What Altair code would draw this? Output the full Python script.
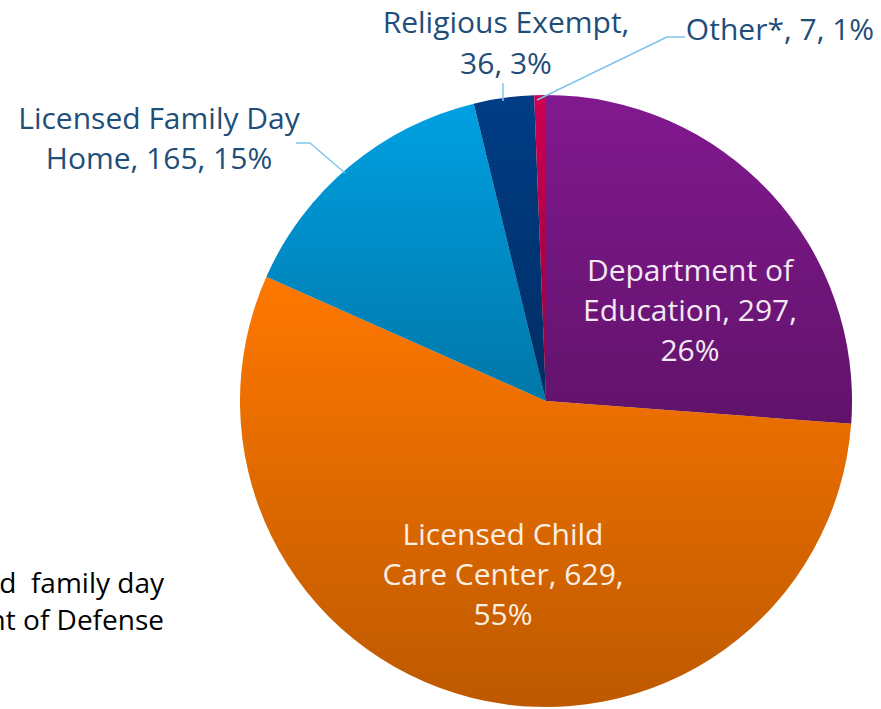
import altair as alt
import pandas as pd

# ---- data ----
categories = ["Department of Education", "Licensed Child Care Center",
              "Licensed Family Day Home", "Religious Exempt", "Other*"]
counts = [297, 629, 165, 36, 7]
percents = ["26%", "55%", "15%", "3%", "1%"]
slice_colors = ["#82198f", "#ff7800", "#00a0e2", "#003d86", "#cc0050"]
label_texts = [
    "Department of\nEducation, 297,\n26%",
    "Licensed Child\nCare Center, 629,\n55%",
    "Licensed Family Day\nHome, 165, 15%",
    "Religious Exempt,\n36, 3%",
    "Other*, 7, 1%",
]
note_lines = "d\u00a0 family day\nnt of Defense"

df = pd.DataFrame({"category": categories, "count": counts,
                   "idx": list(range(len(categories)))})

W, H = 881, 709
CX, CY, R = 546, 401, 306
FONT = "Open Sans"
FS = 30
LABEL_BLUE = "#1f4e79"
LEADER = "#7fc4ee"

base = alt.Chart(df)

pie = base.mark_arc(outerRadius=R).encode(
    theta=alt.Theta("count:Q", stack=True),
    color=alt.Color("category:N", scale=alt.Scale(domain=categories, range=slice_colors), legend=None),
    order=alt.Order("idx:Q", sort="ascending"),
    x=alt.value(CX), y=alt.value(CY),
)

shade = base.mark_arc(
    outerRadius=R,
    fill=alt.Gradient(
        gradient="linear", x1=0, y1=0, x2=0, y2=1,
        stops=[alt.GradientStop(offset=0, color="rgba(0,0,0,0)"),
               alt.GradientStop(offset=1, color="rgba(0,0,0,0.26)")],
    ),
).encode(
    theta=alt.Theta("count:Q", stack=True),
    order=alt.Order("idx:Q", sort="ascending"),
    x=alt.value(CX), y=alt.value(CY),
)

one = pd.DataFrame({"k": [0]})


def rule(x1, y1, x2, y2):
    return alt.Chart(one).mark_rule(color=LEADER, strokeWidth=1.5).encode(
        x=alt.value(x1), y=alt.value(y1), x2=alt.value(x2), y2=alt.value(y2))


def label(text, x, y, color, size=FS, align="center", font=FONT, lh=40):
    return alt.Chart(pd.DataFrame({"t": [text]})).mark_text(
        font=font, fontSize=size, color=color, align=align, baseline="alphabetic",
        lineBreak="\n", lineHeight=lh,
    ).encode(text="t:N", x=alt.value(x), y=alt.value(y))


leaders = [
    rule(503, 83, 503, 101),
    rule(685, 37, 667, 37),
    rule(667, 37, 537, 100),
    rule(296, 143, 310, 143),
    rule(310, 143, 345, 173),
]

labels = [
    label(label_texts[0], 690, 281, "#f3e8f3"),
    label(label_texts[1], 503, 545, "#fbeee2"),
    label(label_texts[2], 159, 129, LABEL_BLUE),
    label(label_texts[3], 506, 33, LABEL_BLUE, lh=41),
    label(label_texts[4], 780, 40, LABEL_BLUE),
    label(note_lines, 164, 593, "#000000", size=28, align="right", lh=37),
]

chart = alt.layer(pie, shade, *leaders, *labels).properties(
    width=W, height=H, padding=0, autosize="none", background="white"
).configure_view(stroke=None)

chart.save("out.html", embed_options={"renderer": "svg", "actions": False})
